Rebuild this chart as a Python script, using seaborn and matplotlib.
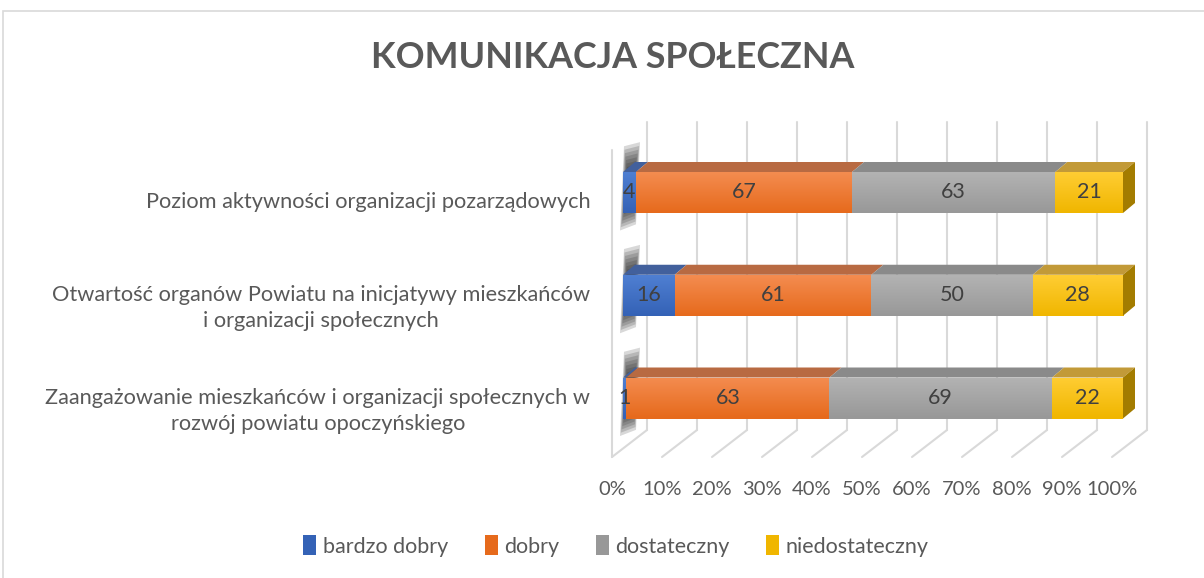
import matplotlib
matplotlib.use("Agg")
import matplotlib.pyplot as plt
import matplotlib.transforms as mtransforms
from matplotlib.colors import LinearSegmentedColormap
from matplotlib.patches import Polygon, Patch, Rectangle
import numpy as np
import seaborn as sns

# data
categories = [
    "Poziom aktywności organizacji pozarządowych",
    "Otwartość organów Powiatu na inicjatywy mieszkańców\ni organizacji społecznych",
    "Zaangażowanie mieszkańców i organizacji społecznych w\nrozwój powiatu opoczyńskiego",
]
series = ["bardzo dobry", "dobry", "dostateczny", "niedostateczny"]
bardzo_dobry = [4, 16, 1]
dobry = [67, 61, 63]
dostateczny = [63, 50, 69]
niedostateczny = [21, 28, 22]
x_ticks = list(range(0, 101, 10))
x_tick_labels = [f"{t}%" for t in x_ticks]
title = "KOMUNIKACJA SPOŁECZNA"

# office style colours: front gradient (light, dark), top face, side face
front_light = ["#4f7fd2", "#f48c50", "#b3b3b3", "#ffcd33"]
front_dark = ["#3462b6", "#e66a1c", "#989898", "#f0b600"]
top_cols = ["#42609c", "#b86a42", "#8a8a8a", "#c29a38"]
side_cols = ["#2f4f8a", "#a85a25", "#7a7a7a", "#a37c00"]
text_col = "#595959"

sns.set_theme(style="white")
plt.rcParams["font.family"] = ["Lato", "DejaVu Sans"]

W, H, DPI = 1204, 578, 100
fig = plt.figure(figsize=(W / DPI, H / DPI), dpi=DPI)

# axes box in pixels, front face: px = 623 + 5 * pct, rows 102.75 px apart
ax_l, ax_r, ax_t, ax_b = 600, 1180, 100, 470
ax = fig.add_axes([ax_l / W, (H - ax_b) / H, (ax_r - ax_l) / W, (ax_b - ax_t) / H])
row_px = 102.75

# 3D depth offsets (data units)
bar_dx, bar_dy = 12 / 5, 10 / row_px
back_dx = 24 / 5
front_dx = -11 / 5
y_back = (398 - 430) / row_px
y_front = (398 - 457) / row_px
y_top = (398 - 122) / row_px
y_wall_top = (398 - 150) / row_px

# walls and floor grid
grid_col = "#d9d9d9"
for t in x_ticks:
    ax.plot([t + back_dx, t + back_dx], [y_back, y_top], color=grid_col, lw=1.5, zorder=1)
    ax.plot([t + back_dx, t + front_dx], [y_back, y_front], color=grid_col, lw=1.5, zorder=1)
ax.plot([front_dx, front_dx], [y_front, y_wall_top], color=grid_col, lw=1.5, zorder=1)

ypos = np.array([2, 1, 0])
bar_h = 41 / row_px
values = np.array([bardzo_dobry, dobry, dostateczny, niedostateczny], dtype=float)
pct = values / values.sum(axis=0) * 100
lefts = np.vstack([np.zeros(3), np.cumsum(pct, axis=0)[:-1]])

# soft shadow of the bar ends on the left wall
shadow_base = np.array([(-2.0, -0.40), (1.2, -0.34), (2.0, 0.46), (-1.2, 0.42)])
for y in ypos:
    cx, cy = 1.4, y + 0.03
    for i in range(10):
        s = 1 - i * 0.08
        pts = np.column_stack([cx + shadow_base[:, 0] * s, cy + shadow_base[:, 1] * s])
        ax.add_patch(Polygon(pts, closed=True, facecolor="#1a1a1a", edgecolor="none",
                             alpha=0.17, zorder=2))

grad = np.linspace(0, 1, 64).reshape(-1, 1)
for k in range(4):
    bars = ax.barh(ypos, pct[k], left=lefts[k], height=bar_h, color=front_dark[k],
                   linewidth=0, zorder=3)
    cmap = LinearSegmentedColormap.from_list(f"g{k}", [front_light[k], front_dark[k]])
    for j, p in enumerate(bars.patches):
        x0, y0, w, h = p.get_x(), p.get_y(), p.get_width(), p.get_height()
        im = ax.imshow(grad, extent=(x0, x0 + w, y0, y0 + h), cmap=cmap,
                       aspect="auto", interpolation="bicubic", zorder=3.1)
        im.set_clip_path(p)
        yt = y0 + h
        ax.add_patch(Polygon([(x0, yt), (x0 + w, yt), (x0 + w + bar_dx, yt + bar_dy),
                              (x0 + bar_dx, yt + bar_dy)], closed=True,
                             facecolor=top_cols[k], edgecolor="none", zorder=3.2))
        if k == 3:
            ax.add_patch(Polygon([(x0 + w, y0), (x0 + w, yt), (x0 + w + bar_dx, yt + bar_dy),
                                  (x0 + w + bar_dx, y0 + bar_dy)], closed=True,
                                 facecolor=side_cols[k], edgecolor="none", zorder=3.2))
        ax.text(x0 + w / 2, ypos[j], f"{int(values[k, j])}", ha="center", va="center",
                fontsize=15.5, color="#404040", zorder=5)

ax.set_xlim((ax_l - 623) / 5, (ax_r - 623) / 5)
ax.set_ylim((398 - ax_b) / row_px, (398 - ax_t) / row_px)

ax.set_xticks(x_ticks, x_tick_labels)
ax.set_yticks(ypos, categories)
ax.tick_params(axis="x", length=0, pad=8, labelsize=14.5, labelcolor=text_col)
ax.tick_params(axis="y", length=0, pad=7, labelsize=15.7, labelcolor=text_col)
for lab in ax.get_xticklabels():
    lab.set_transform(lab.get_transform() +
                      mtransforms.ScaledTranslation(-11 / DPI, 0, fig.dpi_scale_trans))
for lab in ax.get_yticklabels():
    lab.set_multialignment("center")
    lab.set_linespacing(1.35)
    lab.set_transform(lab.get_transform() +
                      mtransforms.ScaledTranslation(0, -8 / DPI, fig.dpi_scale_trans))
for sp in ax.spines.values():
    sp.set_visible(False)
ax.patch.set_alpha(0)

fig.text(613 / W, 1 - 58 / H, title, ha="center", va="center", fontsize=25.8,
         fontweight="bold", color=text_col)

handles = [Patch(facecolor=front_dark[k], edgecolor="none") for k in range(4)]
fig.legend(handles, series, loc="center", bbox_to_anchor=(616 / W, 1 - 546 / H), ncol=4,
           frameon=False, fontsize=15.5, handlelength=0.6, handleheight=1.0,
           handletextpad=0.3, columnspacing=1.7, labelcolor=text_col)

# outer chart border
fig.add_artist(Rectangle((3 / W, -0.1), 1.2, 1 - 11 / H + 0.1, transform=fig.transFigure,
                         facecolor="none", edgecolor="#d9d9d9", lw=1.2))

fig.savefig("out.png", dpi=DPI)
